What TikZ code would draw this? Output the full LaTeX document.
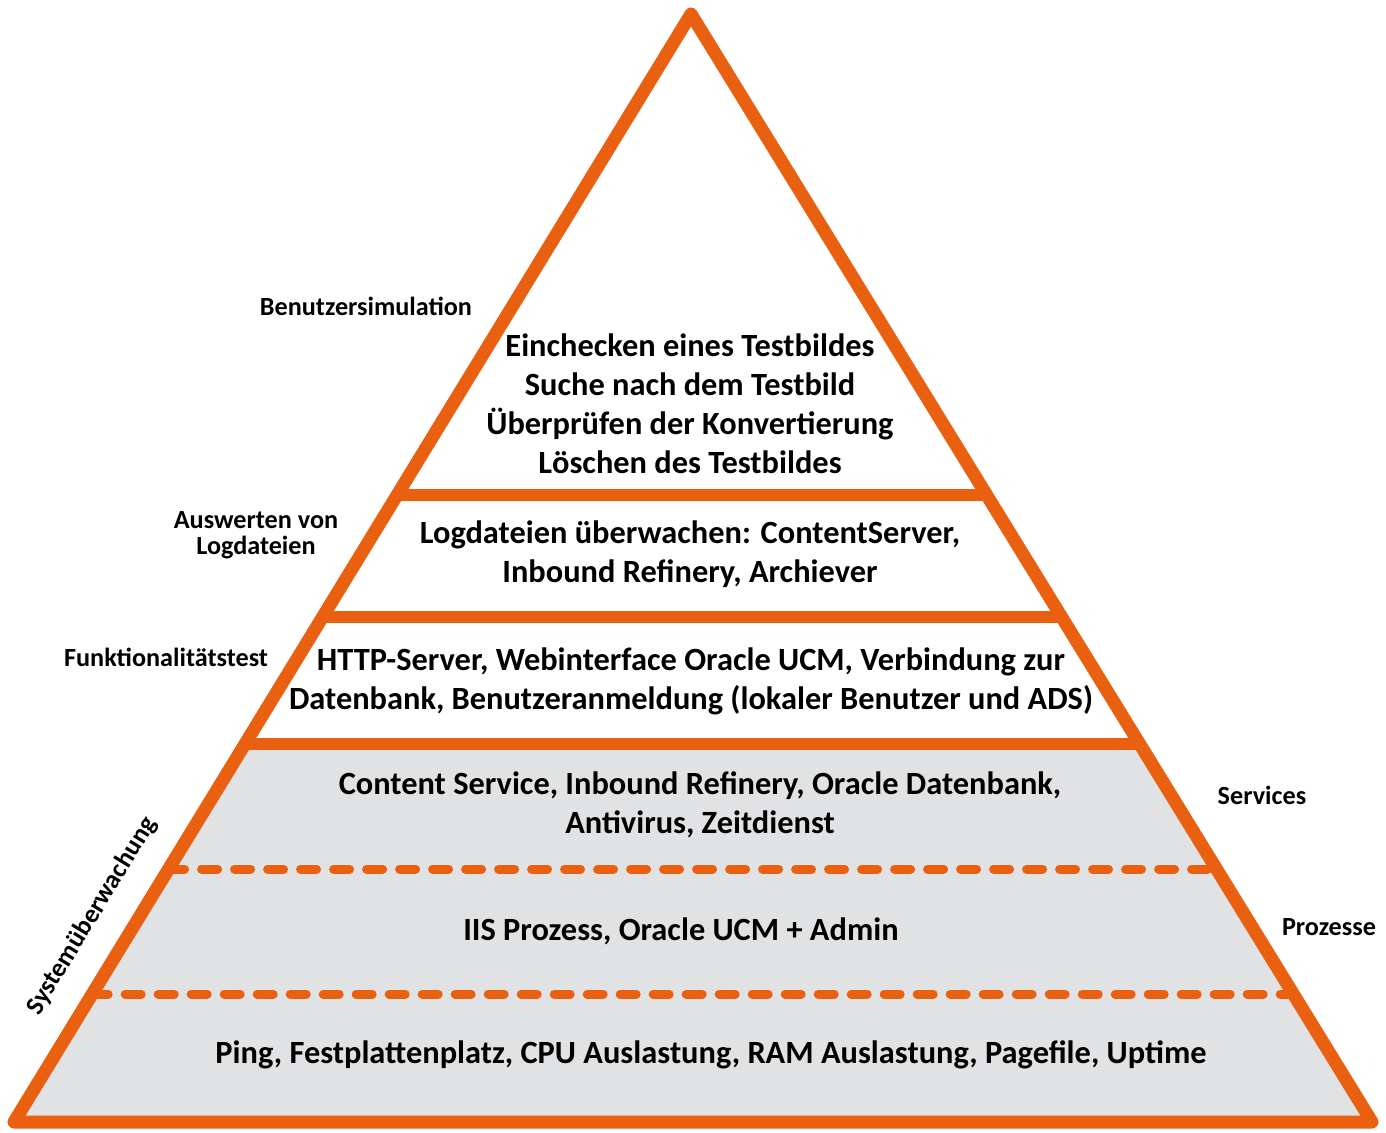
\documentclass[tikz,border=0pt]{standalone}
\usepackage{fontspec}
\setmainfont{Carlito}
\usetikzlibrary{calc}
\definecolor{pyrorange}{RGB}{232,96,16}
\definecolor{pyrgray}{RGB}{225,226,228}
\tikzset{
  leveltext/.style={font=\bfseries\fontsize{16.2}{19.5}\selectfont, align=center},
  sidetext/.style={font=\bfseries\fontsize{13.1}{13}\selectfont, align=center},
  solidline/.style={pyrorange, line width=6pt},
  dashline/.style={pyrorange, line width=4.5pt, line cap=round, dash pattern=on 8pt off 8.5pt}
}
\begin{document}
\begin{tikzpicture}[x=0.5pt, y=-0.5pt, line join=round]
  \useasboundingbox (0,0) rectangle (1386,1132);
  \coordinate (A) at (691,14);
  \coordinate (L) at (14,1122);
  \coordinate (R) at (1372,1122);
  % grey lower levels
  \fill[pyrgray] ($(L)!0.3412!(A)$) -- ($(R)!0.3412!(A)$) -- (R) -- (L) -- cycle;
  % level borders
  \foreach \t in {0.5659, 0.4558, 0.3412}
    \draw[solidline] ($(L)!\t!(A)$) -- ($(R)!\t!(A)$);
  \foreach \t in {0.2283, 0.1155}
    \draw[dashline] ($(L)!\t!(A)$) -- ($(R)!\t!(A)$);
  \draw[pyrorange, line width=6.5pt] (A) -- (R) -- (L) -- cycle;
  % texts inside
  \node[leveltext] (sim) at (690,403.5) {Einchecken eines Testbildes\\Suche nach dem Testbild\\Überprüfen der Konvertierung\\Löschen des Testbildes};
  \node[leveltext] (log) at (690,554.5) {Logdateien überwachen: ContentServer,\\Inbound Refinery, Archiever};
  \node[leveltext] (func) at (691,681) {HTTP-Server, Webinterface Oracle UCM, Verbindung zur\\Datenbank, Benutzeranmeldung (lokaler Benutzer und ADS)};
  \node[leveltext] (serv) at (700,804.5) {Content Service, Inbound Refinery, Oracle Datenbank,\\Antivirus, Zeitdienst};
  \node[leveltext] (proc) at (681,931) {IIS Prozess, Oracle UCM + Admin};
  \node[leveltext] (sys) at (711,1055) {Ping, Festplattenplatz, CPU Auslastung, RAM Auslastung, Pagefile, Uptime};
  % texts outside
  \node[sidetext] (simlabel) at (366,306) {Benutzersimulation};
  \node[sidetext] (loglabel) at (256,535) {Auswerten von\\Logdateien};
  \node[sidetext] (funclabel) at (166,657) {Funktionalitätstest};
  \node[sidetext] (servlabel) at (1262,795) {Services};
  \node[sidetext] (proclabel) at (1329,927) {Prozesse};
  \node[sidetext, rotate=58.6] (syslabel) at (92,916) {Systemüberwachung};
\end{tikzpicture}
\end{document}
